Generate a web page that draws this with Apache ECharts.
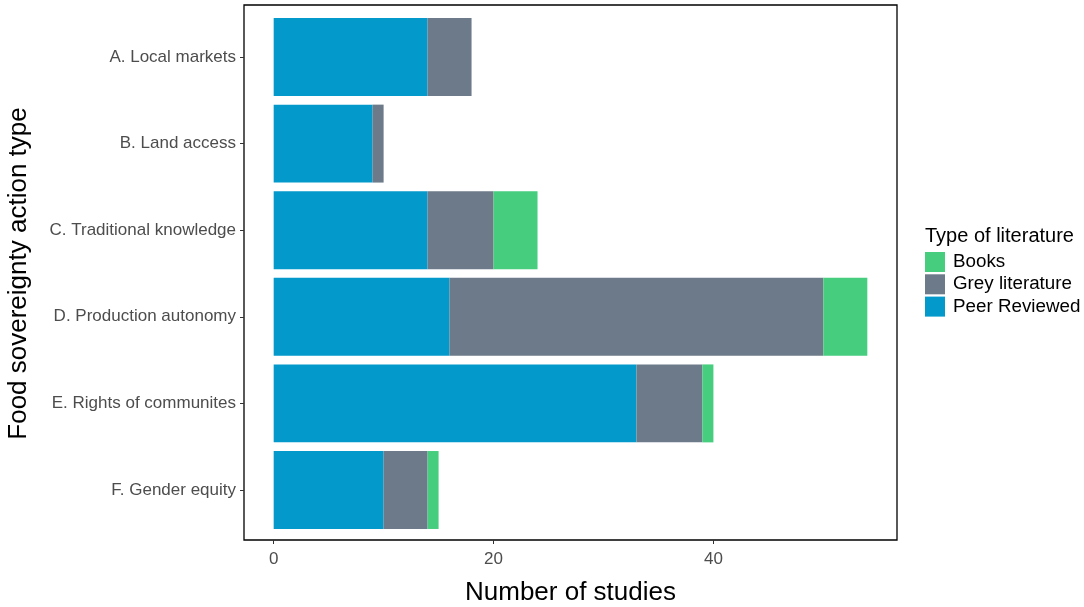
<!DOCTYPE html>
<html>
<head>
<meta charset="utf-8">
<script src="https://cdn.jsdelivr.net/npm/echarts@6/dist/echarts.min.js"></script>
<style>html,body{margin:0;padding:0;background:#fff}#c{width:1084px;height:607px}</style>
</head>
<body>
<div id="c"></div>
<script>
const categories = ['A. Local markets','B. Land access','C. Traditional knowledge','D. Production autonomy','E. Rights of communites','F. Gender equity'];
const peerReviewed = [14, 9, 14, 16, 33, 10];
const greyLiterature = [4, 1, 6, 34, 6, 4];
const books = [0, 0, 4, 4, 1, 1];
const xTicks = [0, 20, 40];

const colors = {peer: '#0399cb', grey: '#6c7a89', books: '#46cd7e'};
const chart = echarts.init(document.getElementById('c'), null, {renderer: 'canvas'});
const font = 'Liberation Sans, Arial, sans-serif';
chart.setOption({
  animation: false,
  backgroundColor: '#fff',
  textStyle: {fontFamily: font},
  grid: [
    {left: 244, right: 187, top: 13.7, bottom: 73.7, show: false, containLabel: false, outerBoundsMode: 'none'},
    {left: 244, right: 187, top: 5, bottom: 67, show: true, borderColor: '#000', borderWidth: 1.3, containLabel: false, outerBoundsMode: 'none'}
  ],
  title: {
    text: 'Type of literature', left: 920, top: 221,
    textStyle: {fontSize: 20, fontWeight: 'normal', color: '#000', fontFamily: font}
  },
  legend: {
    orient: 'vertical', left: 925, top: 252,
    itemWidth: 20, itemHeight: 20, itemGap: 2.3,
    icon: 'rect', padding: 0,
    data: ['Books', 'Grey literature', 'Peer Reviewed'],
    textStyle: {fontSize: 18.8, lineHeight: 20, color: '#000', fontFamily: font, padding: [0,0,0,3]}
  },
  xAxis: [{
    type: 'value', min: -2.7, max: 56.7, gridIndex: 0, offset: 6.7,
    name: 'Number of studies', nameLocation: 'middle', nameGap: 40,
    nameTextStyle: {fontSize: 26, color: '#000', fontFamily: font},
    splitLine: {show: false},
    axisLine: {show: false, onZero: false},
    axisTick: {show: true, length: 4, lineStyle: {color: '#333'}, customValues: xTicks},
    axisLabel: {fontSize: 17, color: '#4d4d4d', margin: 11, customValues: xTicks}
  }, {
    type: 'value', min: 0, max: 1, gridIndex: 1, show: false
  }],
  yAxis: [{
    type: 'category', data: categories, inverse: true, gridIndex: 0,
    name: 'Food sovereignty action type', nameLocation: 'middle', nameGap: 212, nameRotate: 90,
    nameTextStyle: {fontSize: 26, color: '#000', fontFamily: font},
    axisLine: {show: false, onZero: false},
    axisTick: {show: true, alignWithLabel: true, length: 4, lineStyle: {color: '#333'}},
    axisLabel: {fontSize: 17, color: '#4d4d4d', margin: 8}
  }, {
    type: 'value', min: 0, max: 1, gridIndex: 1, show: false
  }],
  series: [
    {name: 'Peer Reviewed', type: 'bar', stack: 's', data: peerReviewed, barCategoryGap: '10%', itemStyle: {color: colors.peer}},
    {name: 'Grey literature', type: 'bar', stack: 's', data: greyLiterature, barCategoryGap: '10%', itemStyle: {color: colors.grey}},
    {name: 'Books', type: 'bar', stack: 's', data: books, barCategoryGap: '10%', itemStyle: {color: colors.books}}
  ]
});
</script>
</body>
</html>
